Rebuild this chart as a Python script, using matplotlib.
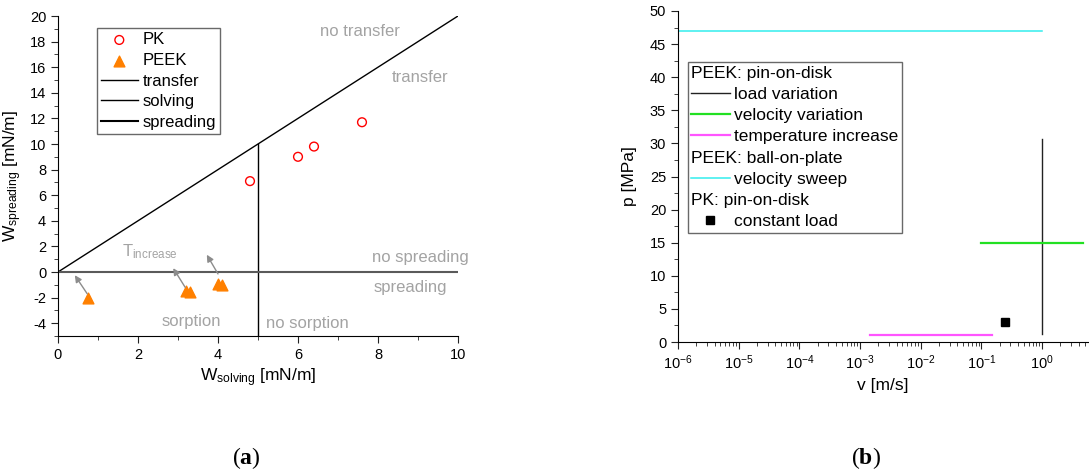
import numpy as np
import matplotlib
matplotlib.use('Agg')
import matplotlib.pyplot as plt
from matplotlib.lines import Line2D
from matplotlib.ticker import MultipleLocator, LogLocator, NullFormatter

plt.rcParams['font.family'] = ['Liberation Sans', 'DejaVu Sans']
plt.rcParams['mathtext.fontset'] = 'custom'
plt.rcParams['mathtext.rm'] = 'Liberation Sans'
plt.rcParams['mathtext.it'] = 'Liberation Sans:italic'
plt.rcParams['mathtext.bf'] = 'Liberation Serif:bold'
plt.rcParams['axes.unicode_minus'] = False

# (a) work of adhesion data
pk_solving = [4.8, 6.0, 6.4, 7.6]
pk_spreading = [7.1, 9.0, 9.8, 11.7]
peek_solving = [0.75, 3.2, 3.3, 4.0, 4.1]
peek_spreading = [-2.0, -1.5, -1.6, -0.9, -1.0]

transfer_x = [0, 10]
transfer_y = [0, 20]
solving_x = [5, 5]
solving_y = [-5, 10]
spreading_x = [0, 10]
spreading_y = [0, 0]

# arrows (tail -> head) showing temperature increase
arrow_tails = [(0.73, -1.7), (3.18, -1.2), (4.0, -0.15)]
arrow_heads = [(0.42, -0.25), (2.88, 0.3), (3.72, 1.35)]

region_labels = [
    ('no transfer', 6.55, 18.8),
    ('transfer', 8.35, 15.2),
    ('no spreading', 7.85, 1.1),
    ('spreading', 7.9, -1.2),
    ('sorption', 2.6, -3.9),
    ('no sorption', 5.2, -4.0),
]

# (b) pressure / velocity ranges
load_v = [1.0, 1.0]
load_p = [1.2, 30.7]
velvar_v = [0.1, 4.7]
velvar_p = [15, 15]
temp_v = [1.45e-3, 0.148]
temp_p = [1, 1]
sweep_v = [1e-6, 1.0]
sweep_p = [47, 47]
pk_v = [0.245]
pk_p = [3]

gray = '#a3a3a3'
fig = plt.figure(figsize=(10.89, 4.74), dpi=100)

# ---------- panel (a)
ax1 = fig.add_axes([58 / 1089, 1 - 336 / 474, 400 / 1089, 320 / 474])
ax1.plot(transfer_x, transfer_y, color='black', lw=1.0, label='transfer')
ax1.plot(solving_x, solving_y, color='black', lw=1.0, label='solving')
ax1.plot(spreading_x, spreading_y, color='#5a5a5a', lw=1.5, label='spreading')
ax1.scatter(pk_solving, pk_spreading, s=40, facecolors='none', edgecolors='red',
            linewidths=1.0, label='PK', zorder=3)
ax1.scatter(peek_solving, peek_spreading, s=60, marker='^', color='#ff8000',
            label='PEEK', zorder=3)
for (tx, ty), (hx, hy) in zip(arrow_tails, arrow_heads):
    ax1.annotate('', xy=(hx, hy), xytext=(tx, ty),
                 arrowprops=dict(arrowstyle='-|>', color='#8c8c8c', lw=1.0,
                                 mutation_scale=10, shrinkA=0, shrinkB=0))
ax1.text(1.6, 1.2, r'T$_{\mathrm{increase}}$', color=gray, fontsize=12)
for txt, x, y in region_labels:
    ax1.text(x, y, txt, color=gray, fontsize=12, va='center')

ax1.set_xlim(0, 10)
ax1.set_ylim(-5, 20)
ax1.xaxis.set_major_locator(MultipleLocator(2))
ax1.xaxis.set_minor_locator(MultipleLocator(1))
ax1.yaxis.set_major_locator(MultipleLocator(2))
ax1.yaxis.set_minor_locator(MultipleLocator(1))
ax1.set_xlabel(r'W$_{\mathrm{solving}}$ [mN/m]', fontsize=12.5, labelpad=3)
ax1.set_ylabel(r'W$_{\mathrm{spreading}}$ [mN/m]', fontsize=12.5, labelpad=4)

h, l = ax1.get_legend_handles_labels()
order = [3, 4, 0, 1, 2]
leg1 = ax1.legend([h[i] for i in order], [l[i] for i in order],
                  loc='upper left', bbox_to_anchor=(0.097, 0.962), fontsize=12,
                  frameon=True, fancybox=False, edgecolor='#444444',
                  handlelength=2.2, handletextpad=0.3, labelspacing=0.34,
                  borderpad=0.25, borderaxespad=0, scatterpoints=1)
leg1.get_frame().set_linewidth(1.0)
leg1.legend_handles[4].set_color('black')

# ---------- panel (b)
ax2 = fig.add_axes([678 / 1089, 1 - 342 / 474, 410 / 1089, 331 / 474])
ax2.plot(load_v, load_p, color='#222222', lw=1.0)
ax2.plot(velvar_v, velvar_p, color='#22e022', lw=1.6)
ax2.plot(temp_v, temp_p, color='#ff55ff', lw=1.6)
ax2.plot(sweep_v, sweep_p, color='#33eeee', lw=1.1)
ax2.plot(pk_v, pk_p, 's', color='black', ms=6)
ax2.set_xscale('log')
ax2.set_xlim(1e-6, 5.7)
ax2.set_ylim(0, 50)
ax2.xaxis.set_major_locator(LogLocator(base=10, numticks=10))
ax2.xaxis.set_minor_locator(LogLocator(base=10, subs=np.arange(2, 10), numticks=20))
ax2.xaxis.set_minor_formatter(NullFormatter())
ax2.yaxis.set_major_locator(MultipleLocator(5))
ax2.yaxis.set_minor_locator(MultipleLocator(2.5))
ax2.set_xlabel('v [m/s]', fontsize=12.5, labelpad=4)
ax2.set_ylabel('p [MPa]', fontsize=12.5, labelpad=9)

blank = Line2D([], [], linestyle='none')
handles2 = [blank,
            Line2D([], [], color='#222222', lw=1.0),
            Line2D([], [], color='#22e022', lw=1.6),
            Line2D([], [], color='#ff55ff', lw=1.6),
            blank,
            Line2D([], [], color='#33eeee', lw=1.1),
            blank,
            Line2D([], [], marker='s', color='black', ms=6, linestyle='none')]
labels2 = ['PEEK: pin-on-disk', 'load variation', 'velocity variation',
           'temperature increase', 'PEEK: ball-on-plate', 'velocity sweep',
           'PK: pin-on-disk', 'constant load']
headers = [0, 4, 6]
leg2 = ax2.legend(handles2, labels2, loc='upper left', bbox_to_anchor=(0.024, 0.846),
                  fontsize=12.5, frameon=True, fancybox=False, edgecolor='#444444',
                  handlelength=2.2, handletextpad=0.28, labelspacing=0.35,
                  borderpad=0.2, borderaxespad=0)
leg2.get_frame().set_linewidth(1.0)
rows = []
for col in leg2._legend_handle_box.get_children():
    rows.extend(col.get_children())
for i in headers:
    draw_area, text_area = rows[i].get_children()
    draw_area.width = 0
    rows[i].sep = 0

for ax in (ax1, ax2):
    ax.spines['top'].set_visible(False)
    ax.spines['right'].set_visible(False)
    ax.tick_params(which='both', direction='out', labelsize=10.5, color='#222222')
    ax.tick_params(which='major', length=5)
    ax.tick_params(which='minor', length=3)

fig.text(246 / 1089, 1 - 458 / 474, r'($\mathbf{a}$)', family='Liberation Serif',
         fontsize=17, ha='center', va='center')
fig.text(866 / 1089, 1 - 458 / 474, r'($\mathbf{b}$)', family='Liberation Serif',
         fontsize=17, ha='center', va='center')

fig.savefig('out.png', dpi=100)
